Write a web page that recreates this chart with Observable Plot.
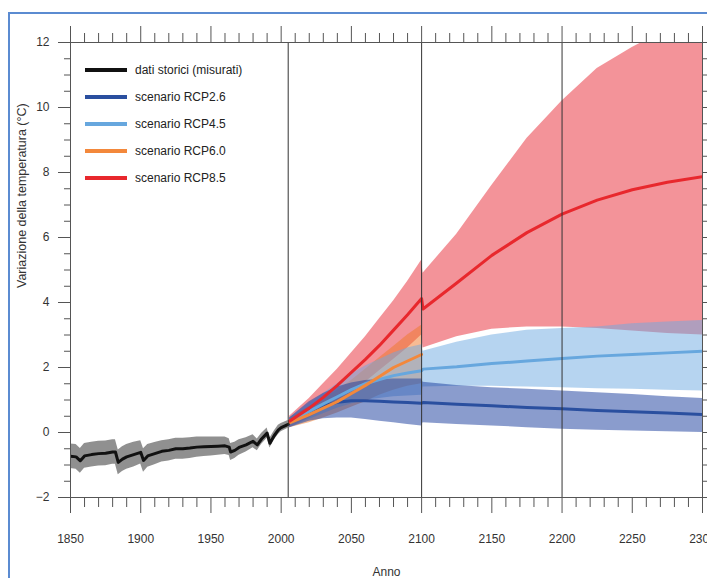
<!DOCTYPE html>
<html><head><meta charset="utf-8">
<script src="https://cdn.jsdelivr.net/npm/d3@7"></script>
<script src="https://cdn.jsdelivr.net/npm/@observablehq/plot@0.6"></script>
<style>
body{margin:0;background:#fff;overflow:hidden;font-family:"Liberation Sans",Arial,sans-serif;}
#wrap{position:relative;width:707px;height:578px;overflow:hidden;background:#fff;}
#chart{position:absolute;left:0;top:0;}
#border{position:absolute;left:8px;top:12px;width:720px;height:600px;border-top:2px solid #5b8bd1;border-left:2px solid #5b8bd1;pointer-events:none;}
#legend{position:absolute;left:85px;top:0;width:200px;height:200px;}
.item{position:absolute;left:0;white-space:nowrap;font-size:12px;color:#222;height:14px;width:200px;}
.sw{position:absolute;left:0;top:5px;width:42px;height:4px;}
.lab{position:absolute;left:50px;top:0;line-height:14px;}
</style></head>
<body>
<div id="wrap"><div id="chart"></div><div id="border"></div><div id="legend"></div></div>
<script>
// ---- data ----
const histYears = [1850,1854,1857,1860,1865,1870,1875,1880,1882,1884,1887,1890,1895,1900,1902,1905,1910,1915,1920,1925,1930,1935,1940,1945,1950,1955,1960,1963,1964,1967,1970,1975,1980,1983,1986,1990,1992,1995,1998,2000,2005];
const histMean = [-0.73,-0.75,-0.87,-0.72,-0.68,-0.65,-0.64,-0.6,-0.6,-0.92,-0.82,-0.75,-0.68,-0.61,-0.86,-0.72,-0.65,-0.58,-0.55,-0.5,-0.5,-0.48,-0.45,-0.44,-0.43,-0.42,-0.41,-0.45,-0.6,-0.55,-0.46,-0.38,-0.27,-0.38,-0.2,-0.02,-0.33,-0.1,0.08,0.15,0.25];
const histSpread = [0.38,0.38,0.38,0.38,0.38,0.38,0.38,0.38,0.38,0.38,0.38,0.38,0.38,0.36,0.36,0.35,0.34,0.33,0.33,0.32,0.32,0.32,0.31,0.3,0.29,0.28,0.27,0.26,0.26,0.25,0.24,0.22,0.2,0.18,0.17,0.16,0.15,0.14,0.14,0.13,0.12];

const preYears  = [2006,2020,2030,2040,2050,2060,2070,2080,2090,2100];
const postYears = [2101,2125,2150,2175,2200,2225,2250,2275,2300];

const rcp26Mean = [0.3,0.65,0.82,0.93,0.98,0.98,0.96,0.94,0.92,0.9,  0.92,0.87,0.82,0.77,0.73,0.68,0.64,0.6,0.55];
const rcp26Low  = [0.15,0.35,0.42,0.45,0.45,0.4,0.35,0.3,0.25,0.2,  0.3,0.25,0.2,0.15,0.1,0.07,0.05,0.02,0.0];
const rcp26High = [0.45,0.95,1.2,1.4,1.52,1.6,1.63,1.65,1.65,1.65,  1.55,1.45,1.38,1.33,1.28,1.22,1.17,1.1,1.05];

const rcp45Mean = [0.3,0.65,0.88,1.1,1.32,1.5,1.63,1.75,1.83,1.9,  1.95,2.02,2.12,2.2,2.28,2.35,2.4,2.45,2.5];
const rcp45Low  = [0.15,0.4,0.58,0.75,0.88,1.0,1.05,1.1,1.12,1.15,  1.4,1.42,1.42,1.4,1.38,1.35,1.33,1.3,1.28];
const rcp45High = [0.45,0.9,1.2,1.5,1.8,2.05,2.25,2.45,2.6,2.7,  2.5,2.78,3.0,3.15,3.2,3.25,3.35,3.4,3.45];

const rcp60Mean = [0.3,0.55,0.75,0.95,1.2,1.45,1.72,2.0,2.2,2.4];
const rcp60Low  = [0.15,0.3,0.45,0.6,0.78,0.95,1.15,1.3,1.42,1.5];
const rcp60High = [0.45,0.8,1.05,1.3,1.6,1.95,2.3,2.65,3.0,3.3];

const rcp85Mean = [0.35,0.75,1.08,1.45,1.85,2.25,2.68,3.15,3.62,4.12,  3.8,4.6,5.45,6.15,6.72,7.15,7.47,7.7,7.87];
const rcp85Low  = [0.15,0.45,0.7,0.95,1.25,1.55,1.9,2.25,2.6,3.0,  2.6,2.95,3.18,3.25,3.25,3.2,3.12,3.05,3.0];
const rcp85High = [0.5,1.05,1.5,1.95,2.45,2.95,3.5,4.05,4.65,5.3,  4.9,6.1,7.6,9.05,10.2,11.2,11.85,12.4,12.7];

const legendLabels = ["dati storici (misurati)","scenario RCP2.6","scenario RCP4.5","scenario RCP6.0","scenario RCP8.5"];
const lineColors   = ["#111111","#2a4f9f","#67a7de","#f3883b","#e8282d"];

const majorYears = [1850,1900,1950,2000,2050,2100,2150,2200,2250,2300];
const minorYears = d3.range(1860, 2300, 10).filter(y => y % 50 !== 0);
const majorTemps = [-2,0,2,4,6,8,10,12];
const minorTemps = d3.range(-1.5, 12, 0.5).filter(v => v % 2 !== 0);
const periodLines = [2005, 2100, 2200];
const yLabel = "Variazione della temperatura (°C)";
const xLabel = "Anno";

// ---- tables ----
function rows(years, mean, lo, hi) {
  return years.map((year, i) => ({year, mean: mean[i], lo: lo[i], hi: hi[i]}));
}
const projYears = preYears.concat(postYears);
const hist = histYears.map((year, i) => ({year, mean: histMean[i], lo: histMean[i] - histSpread[i], hi: histMean[i] + histSpread[i]}));
const r26 = rows(projYears, rcp26Mean, rcp26Low, rcp26High);
const r45 = rows(projYears, rcp45Mean, rcp45Low, rcp45High);
const r60 = rows(preYears, rcp60Mean, rcp60Low, rcp60High);
const r85 = rows(projYears, rcp85Mean, rcp85Low, rcp85High);

const fmtY = d => d < 0 ? "\u2212" + (-d) : String(d);
const band = (data, fill, op) => Plot.areaY(data, {x: "year", y1: "lo", y2: "hi", fill, fillOpacity: op, clip: true});
const line = (data, stroke) => Plot.line(data, {x: "year", y: "mean", stroke, strokeWidth: 3, clip: true});

const chart = Plot.plot({
  width: 707, height: 578,
  marginLeft: 70, marginRight: 5, marginTop: 42, marginBottom: 81,
  x: {domain: [1850, 2300], axis: null, label: null},
  y: {domain: [-2, 12], axis: null, label: null},
  style: {fontFamily: '"Liberation Sans", Arial, sans-serif', fontSize: "12px", background: "transparent", overflow: "hidden"},
  marks: [
    band(r85, "rgb(232,40,52)", 0.5),
    band(r60, "rgb(240,120,40)", 0.5),
    band(r45, "rgb(110,170,225)", 0.5),
    band(r26, "rgb(30,65,160)", 0.52),
    band(hist, "rgb(70,70,70)", 0.6),
    line(r26, lineColors[1]),
    line(r45, lineColors[2]),
    line(r60, lineColors[3]),
    line(r85, lineColors[4]),
    line(hist, lineColors[0]),
    Plot.ruleX(periodLines, {stroke: "#333", strokeWidth: 1}),
    Plot.frame({stroke: "#555"}),
    Plot.axisX({anchor: "bottom", ticks: minorYears, tickSize: 10, tickFormat: () => "", stroke: "#555", label: null}),
    Plot.axisX({anchor: "bottom", ticks: majorYears, tickSize: 16, tickPadding: 21, tickFormat: d => String(d), stroke: "#555", fill: "#333", fontSize: 12, label: null}),
    Plot.axisX({anchor: "top", ticks: minorYears, tickSize: 10, tickFormat: () => "", stroke: "#555", label: null}),
    Plot.axisX({anchor: "top", ticks: majorYears, tickSize: 17, tickFormat: () => "", stroke: "#555", label: null}),
    Plot.axisY({anchor: "left", ticks: minorTemps, tickSize: 6, tickFormat: () => "", stroke: "#555", label: null}),
    Plot.axisY({anchor: "left", ticks: majorTemps, tickSize: 12, tickPadding: 9, tickFormat: fmtY, stroke: "#555", fill: "#333", fontSize: 12, label: null}),
    Plot.axisY({anchor: "right", ticks: minorTemps, tickSize: 6, tickFormat: () => "", stroke: "#555", label: null}),
    Plot.axisY({anchor: "right", ticks: majorTemps, tickSize: 12, tickFormat: () => "", stroke: "#555", label: null}),
    Plot.text([yLabel], {frameAnchor: "left", dx: -49, dy: 18, rotate: -90, fill: "#333", fontSize: 12.5}),
    Plot.text([xLabel], {frameAnchor: "bottom", lineAnchor: "top", dy: 70, fill: "#333", fontSize: 12})
  ]
});
document.getElementById("chart").appendChild(chart);

// ---- legend (inside the plot, top-left) ----
const leg = document.getElementById("legend");
legendLabels.forEach((lab, i) => {
  const it = document.createElement("div");
  it.className = "item";
  it.style.top = (63 + 27 * i) + "px";
  it.innerHTML = `<div class="sw" style="background:${lineColors[i]}"></div><div class="lab">${lab}</div>`;
  leg.appendChild(it);
});
</script>
</body></html>
